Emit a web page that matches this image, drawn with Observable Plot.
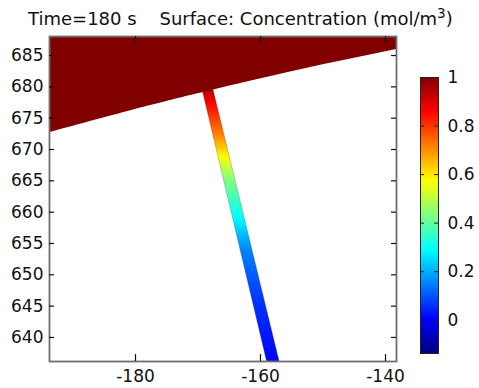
<!DOCTYPE html>
<html><head><meta charset="utf-8">
<script src="https://cdn.jsdelivr.net/npm/d3@7"></script>
<script src="https://cdn.jsdelivr.net/npm/@observablehq/plot@0.6"></script>
<style>
body{margin:0;background:#fff;}
#wrap{position:relative;width:479px;height:388px;font-family:"DejaVu Sans";}
#wrap svg{position:absolute;left:0;top:0;}
#title{position:absolute;left:28px;top:10px;font-size:18px;line-height:18px;white-space:pre;color:#111;}
#title sup{font-size:0.75em;vertical-align:0.55em;line-height:0;}
</style></head><body>
<div id="wrap"><div id="title">Time=180 s    Surface: Concentration (mol/m<sup>3</sup>)</div></div>
<script>
// axis ticks and view extent
const xTicks = [-180, -160, -140];
const yTicks = [640, 645, 650, 655, 660, 665, 670, 675, 680, 685];
const xDomain = [-193.76, -138.24];
const yDomain = [636.16, 688.04];

// boundary of the upper (concentration = 1) domain
const boundaryX = [-193.76, -177.76, -168.32, -153.76, -138.24];
const boundaryY = [672.68, 676.97, 679.32, 682.70, 685.96];
const regionC = 1;

// channel (strip) edges
const stripY = [681, 635];
const stripLeftX = [-169.63, -158.68];
const stripRightX = [-167.89, -156.67];

// concentration read along the channel
const profileY = [679.2, 677.3, 672.5, 668.7, 665.0, 659.1, 653.8, 645.3, 636.2];
const profileC = [0.93, 0.86, 0.72, 0.57, 0.43, 0.29, 0.15, 0.06, 0.01];

// colour bar
const cbTicks = [0, 0.2, 0.4, 0.6, 0.8, 1];
const cRange = [-0.137, 1];
const jetStops = [-0.137, 0.0051, 0.289, 0.574, 0.858, 1];
const jetColors = ["#000080", "#0000ff", "#00ffff", "#ffff00", "#ff0000", "#800000"];

const colorOpts = {type: "linear", domain: jetStops, range: jetColors, interpolate: "rgb"};
const colorScale = Plot.scale({color: colorOpts});

const region = boundaryX.map((x, i) => ({x, y: boundaryY[i], top: yDomain[1] + 3, c: regionC}));
const strip = stripY.map((y, i) => ({y, xl: stripLeftX[i], xr: stripRightX[i]}));

const baseStyle = {fontFamily: "DejaVu Sans", fontSize: "17px", color: "#111", background: "transparent", overflow: "visible"};
const tickStroke = {stroke: "#111", strokeWidth: 1.2};

const main = Plot.plot({
  width: 479, height: 388,
  marginLeft: 49, marginRight: 83, marginTop: 36, marginBottom: 27,
  x: {domain: xDomain},
  y: {domain: yDomain},
  color: colorOpts,
  style: baseStyle,
  marks: [
    Plot.areaX(strip, {y: "y", x1: "xl", x2: "xr", fill: "url(#stripGrad)", stroke: "#3a1a1a", strokeWidth: 0.4, strokeOpacity: 0.6, clip: true}),
    Plot.areaY(region, {x: "x", y1: "y", y2: "top", fill: "c", curve: "natural", clip: true}),
    Plot.frame({stroke: "#6e6e6e", strokeWidth: 1.8}),
    Plot.ruleX(xTicks, {x: d => d, insetTop: 318, ...tickStroke}),
    Plot.ruleX(xTicks, {x: d => d, insetBottom: 318, ...tickStroke}),
    Plot.ruleY(yTicks, {y: d => d, insetRight: 342, ...tickStroke}),
    Plot.ruleY(yTicks, {y: d => d, insetLeft: 342, ...tickStroke}),
    Plot.axisX(xTicks, {tickSize: 0, tickPadding: 8, tickFormat: d => String(d)}),
    Plot.axisY(yTicks, {tickSize: 0, tickPadding: 6, tickFormat: d => String(d)})
  ]
});
{
  const defs = d3.select(main).insert("defs", ":first-child");
  const g = defs.append("linearGradient").attr("id", "stripGrad")
    .attr("x1", 0).attr("y1", 0).attr("x2", 0).attr("y2", 1);
  profileY.forEach((y, i) => g.append("stop")
    .attr("offset", (stripY[0] - y) / (stripY[0] - stripY[1]))
    .attr("stop-color", colorScale.apply(profileC[i])));
}

const cb = Plot.plot({
  width: 479, height: 388,
  marginLeft: 420, marginRight: 41, marginTop: 77, marginBottom: 35,
  x: {domain: [0, 1], axis: null},
  y: {domain: cRange, axis: null},
  style: baseStyle,
  marks: [
    Plot.rect([cRange], {x1: 0, x2: 1, y1: d => d[0], y2: d => d[1], fill: "url(#cbGrad)"}),
    Plot.frame({stroke: "#222", strokeWidth: 1}),
    Plot.ruleY(cbTicks, {y: d => d, insetRight: 14, stroke: "#222"}),
    Plot.ruleY(cbTicks, {y: d => d, insetLeft: 14, stroke: "#222"}),
    Plot.axisY(cbTicks, {anchor: "right", tickSize: 0, tickPadding: 9, tickFormat: d => String(d)})
  ]
});
{
  const defs = d3.select(cb).insert("defs", ":first-child");
  const g = defs.append("linearGradient").attr("id", "cbGrad")
    .attr("x1", 0).attr("y1", 1).attr("x2", 0).attr("y2", 0);
  jetStops.forEach((v, i) => g.append("stop")
    .attr("offset", (v - cRange[0]) / (cRange[1] - cRange[0]))
    .attr("stop-color", jetColors[i]));
}

const wrap = document.getElementById("wrap");
wrap.appendChild(main);
wrap.appendChild(cb);
</script></body></html>
